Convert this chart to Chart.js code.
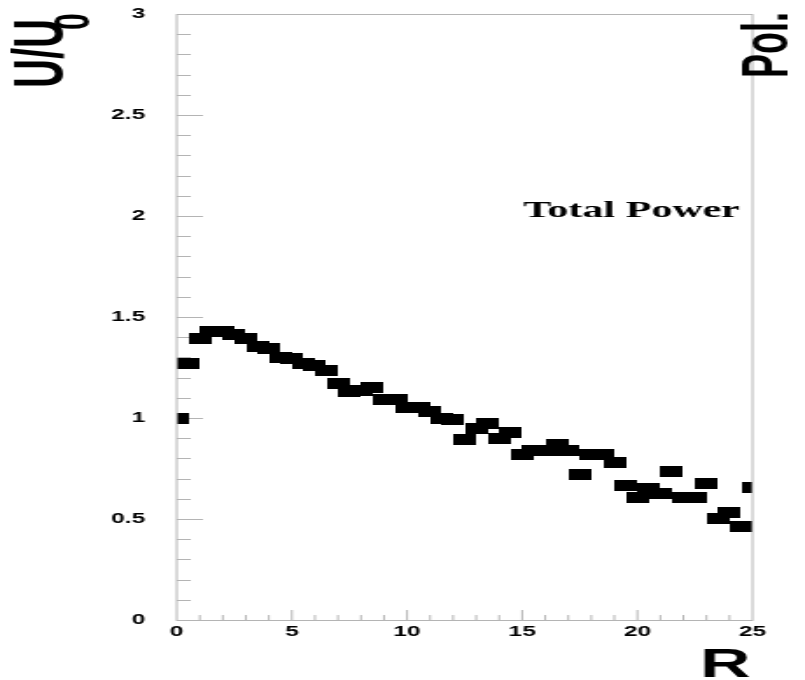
<!DOCTYPE html>
<html>
<head>
<meta charset="utf-8">
<script src="https://cdn.jsdelivr.net/npm/chart.js@4"></script>
<style>
  html, body { margin: 0; padding: 0; background: #fff; overflow: hidden; }
  /* the original picture is stretched sideways, so draw narrow and scale */
  #wrap { width: 460px; height: 680px; transform: scaleX(1.75); transform-origin: 0 0; }
</style>
</head>
<body>
<div id="wrap"><canvas id="powerChart" width="460" height="680"></canvas></div>
<script>
const rValues = [0, 0.5, 1, 1.5, 2, 2.5, 3, 3.5, 4, 4.5, 5, 5.5, 6, 6.5, 7, 7.5, 8, 8.5, 9, 9.5,
  10, 10.5, 11, 11.5, 12, 12.5, 13, 13.5, 14, 14.5, 15, 15.5, 16, 16.5, 17, 17.5, 18, 18.5, 19, 19.5,
  20, 20.5, 21, 21.5, 22, 22.5, 23, 23.5, 24, 24.5, 25];
const powerValues = [1.00, 1.27, 1.395, 1.43, 1.43, 1.415, 1.395, 1.355, 1.345, 1.30, 1.295, 1.27, 1.26, 1.235, 1.17, 1.13, 1.135, 1.15, 1.09, 1.09,
  1.05, 1.05, 1.03, 1.00, 0.995, 0.896, 0.95, 0.975, 0.90, 0.93, 0.817, 0.84, 0.84, 0.87, 0.837, 0.72, 0.82, 0.82, 0.78, 0.668,
  0.604, 0.653, 0.628, 0.733, 0.604, 0.604, 0.676, 0.502, 0.532, 0.463, 0.658];
const xTickLabels = ['0', '5', '10', '15', '20', '25'];
const yTickLabels = ['0', '0.5', '1', '1.5', '2', '2.5', '3'];

const tickFont = { family: '"Liberation Sans", Arial, sans-serif', size: 14, weight: 'bold' };
const frameColor = '#b4b4b4';

// black box marker, narrow here, wide once stretched
const marker = document.createElement('canvas');
marker.width = 13;
marker.height = 11;
const mctx = marker.getContext('2d');
mctx.fillStyle = '#000';
mctx.fillRect(0, 0, 13, 11);

// inner tick marks like the ROOT frame
const innerTicks = {
    id: 'innerTicks',
    beforeDatasetsDraw(chart) {
        const ctx = chart.ctx;
        const area = chart.chartArea;
        const xs = chart.scales.x;
        const ys = chart.scales.y;
        ctx.save();
        ctx.strokeStyle = frameColor;
        ctx.lineWidth = 1;
        ctx.beginPath();
        for (let i = 1; i < 30; i++) {
            const v = i / 10;
            const py = Math.round(ys.getPixelForValue(v)) + 0.5;
            const len = (i % 5 === 0) ? 15 : 8;
            ctx.moveTo(area.left, py);
            ctx.lineTo(area.left + len, py);
        }
        for (let i = 1; i < 25; i++) {
            const px = xs.getPixelForValue(i);
            const len = (i % 5 === 0) ? 10 : 5;
            ctx.moveTo(px, area.bottom);
            ctx.lineTo(px, area.bottom - len);
        }
        ctx.stroke();
        ctx.restore();
    },
    afterDatasetsDraw(chart) {
        const ctx = chart.ctx;
        const a = chart.chartArea;
        ctx.save();
        ctx.strokeStyle = frameColor;
        ctx.lineWidth = 1;
        ctx.strokeRect(a.left, a.top + 0.5, a.right - a.left, a.bottom - a.top);
        ctx.restore();
    }
};

// axis titles and the label inside the plot
const rootLabels = {
    id: 'rootLabels',
    afterDraw(chart) {
        const ctx = chart.ctx;
        ctx.save();
        ctx.fillStyle = '#000';
        ctx.textAlign = 'left';
        ctx.textBaseline = 'alphabetic';

        ctx.save();
        ctx.translate(36, 88);
        ctx.rotate(-Math.PI / 2);
        ctx.font = 'bold 40px "Liberation Sans", Arial, sans-serif';
        ctx.fillText('U/U', 0, 0);
        ctx.font = 'bold 30px "Liberation Sans", Arial, sans-serif';
        ctx.fillText('0', 58, 15);
        ctx.restore();

        ctx.save();
        ctx.translate(450, 78);
        ctx.rotate(-Math.PI / 2);
        ctx.font = 'bold 36px "Liberation Sans", Arial, sans-serif';
        ctx.fillText('Pol.', 0, 0);
        ctx.restore();

        ctx.font = 'bold 40px "Liberation Sans", Arial, sans-serif';
        ctx.fillText('R', 400, 677);

        ctx.font = 'bold 24px "Liberation Serif", "Times New Roman", serif';
        ctx.fillText('Total Power', 299, 217);
        ctx.restore();
    }
};

const ctx = document.getElementById('powerChart').getContext('2d');
const powerChart = new Chart(ctx, {
    type: 'scatter',
    data: {
        datasets: [
            {
                label: 'Total Power',
                data: rValues.map((r, i) => ({ x: r, y: powerValues[i] })),
                pointStyle: marker,
                pointRadius: 6,
                pointHoverRadius: 6,
                clip: 0,
            },
        ],
    },
    options: {
        responsive: false,
        animation: false,
        devicePixelRatio: 1,
        layout: { autoPadding: false, padding: { top: 14, right: 30, left: 0, bottom: 0 } },
        plugins: {
            legend: { display: false },
            tooltip: { enabled: false },
        },
        scales: {
            x: {
                type: 'linear',
                min: 0,
                max: 25,
                grid: { display: false, drawTicks: false },
                border: { display: false },
                ticks: {
                    stepSize: 5,
                    padding: 4,
                    maxRotation: 0,
                    color: '#000',
                    font: tickFont,
                    callback: (value, index) => xTickLabels[index],
                },
                afterFit: (scale) => { scale.height = 60; },
            },
            y: {
                type: 'linear',
                min: 0,
                max: 3,
                grid: { display: false, drawTicks: false },
                border: { display: false },
                ticks: {
                    stepSize: 0.5,
                    padding: 18,
                    color: '#000',
                    font: tickFont,
                    callback: (value, index) => yTickLabels[index],
                },
                afterFit: (scale) => {
                    scale.width = 101;
                    // tick padding should not push the frame down
                    scale.paddingTop = 0;
                    scale.paddingBottom = 0;
                },
            },
        },
    },
    plugins: [innerTicks, rootLabels],
});
</script>
</body>
</html>
